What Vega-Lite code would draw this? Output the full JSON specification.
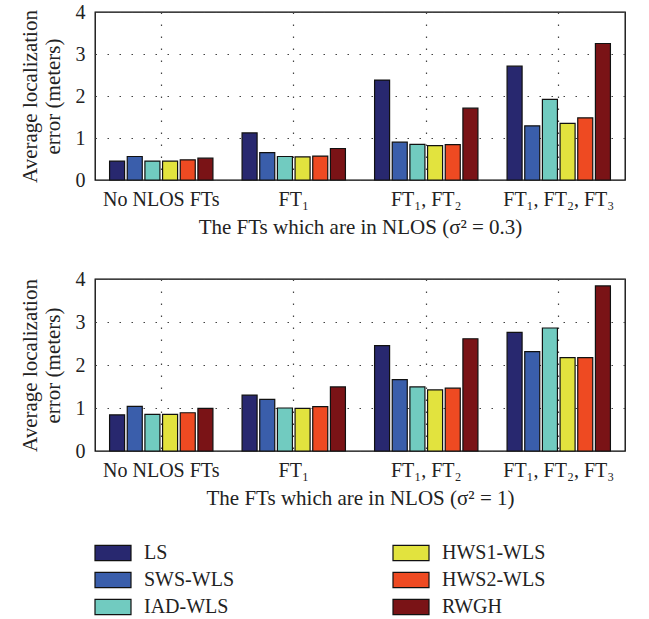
{
  "$schema": "https://vega.github.io/schema/vega-lite/v6.json",
  "padding": {"left": 18, "top": 1, "right": 20, "bottom": 5},
  "background": "white",
  "config": {
    "font": "Liberation Serif",
    "view": {"stroke": "black", "strokeWidth": 1.3},
    "axis": {
      "labelFont": "Liberation Serif",
      "titleFont": "Liberation Serif",
      "labelFontSize": 20,
      "titleFontSize": 21,
      "titleFontWeight": "normal",
      "labelColor": "#222222",
      "titleColor": "#222222",
      "domain": false,
      "ticks": false,
      "gridColor": "#444444",
      "gridDash": [1.5, 10.5],
      "gridOpacity": 1,
      "gridWidth": 1.2
    },
    "legend": {
      "labelFont": "Liberation Serif",
      "labelFontSize": 20,
      "labelColor": "#222222"
    }
  },
  "datasets": {
    "d": [
      {"panel": "a", "group": "No NLOS FTs", "method": "LS", "value": 0.45},
      {"panel": "a", "group": "No NLOS FTs", "method": "SWS-WLS", "value": 0.56},
      {"panel": "a", "group": "No NLOS FTs", "method": "IAD-WLS", "value": 0.45},
      {"panel": "a", "group": "No NLOS FTs", "method": "HWS1-WLS", "value": 0.45},
      {"panel": "a", "group": "No NLOS FTs", "method": "HWS2-WLS", "value": 0.48},
      {"panel": "a", "group": "No NLOS FTs", "method": "RWGH", "value": 0.52},
      {"panel": "a", "group": "FT₁", "method": "LS", "value": 1.12},
      {"panel": "a", "group": "FT₁", "method": "SWS-WLS", "value": 0.65},
      {"panel": "a", "group": "FT₁", "method": "IAD-WLS", "value": 0.56},
      {"panel": "a", "group": "FT₁", "method": "HWS1-WLS", "value": 0.55},
      {"panel": "a", "group": "FT₁", "method": "HWS2-WLS", "value": 0.57},
      {"panel": "a", "group": "FT₁", "method": "RWGH", "value": 0.75},
      {"panel": "a", "group": "FT₁, FT₂", "method": "LS", "value": 2.38},
      {"panel": "a", "group": "FT₁, FT₂", "method": "SWS-WLS", "value": 0.9},
      {"panel": "a", "group": "FT₁, FT₂", "method": "IAD-WLS", "value": 0.85},
      {"panel": "a", "group": "FT₁, FT₂", "method": "HWS1-WLS", "value": 0.82},
      {"panel": "a", "group": "FT₁, FT₂", "method": "HWS2-WLS", "value": 0.84},
      {"panel": "a", "group": "FT₁, FT₂", "method": "RWGH", "value": 1.71},
      {"panel": "a", "group": "FT₁, FT₂, FT₃", "method": "LS", "value": 2.71},
      {"panel": "a", "group": "FT₁, FT₂, FT₃", "method": "SWS-WLS", "value": 1.29},
      {"panel": "a", "group": "FT₁, FT₂, FT₃", "method": "IAD-WLS", "value": 1.92},
      {"panel": "a", "group": "FT₁, FT₂, FT₃", "method": "HWS1-WLS", "value": 1.35},
      {"panel": "a", "group": "FT₁, FT₂, FT₃", "method": "HWS2-WLS", "value": 1.48},
      {"panel": "a", "group": "FT₁, FT₂, FT₃", "method": "RWGH", "value": 3.25},
      {"panel": "b", "group": "No NLOS FTs", "method": "LS", "value": 0.84},
      {"panel": "b", "group": "No NLOS FTs", "method": "SWS-WLS", "value": 1.04},
      {"panel": "b", "group": "No NLOS FTs", "method": "IAD-WLS", "value": 0.85},
      {"panel": "b", "group": "No NLOS FTs", "method": "HWS1-WLS", "value": 0.85},
      {"panel": "b", "group": "No NLOS FTs", "method": "HWS2-WLS", "value": 0.89},
      {"panel": "b", "group": "No NLOS FTs", "method": "RWGH", "value": 0.99},
      {"panel": "b", "group": "FT₁", "method": "LS", "value": 1.3},
      {"panel": "b", "group": "FT₁", "method": "SWS-WLS", "value": 1.2},
      {"panel": "b", "group": "FT₁", "method": "IAD-WLS", "value": 1.0},
      {"panel": "b", "group": "FT₁", "method": "HWS1-WLS", "value": 0.99},
      {"panel": "b", "group": "FT₁", "method": "HWS2-WLS", "value": 1.03},
      {"panel": "b", "group": "FT₁", "method": "RWGH", "value": 1.49},
      {"panel": "b", "group": "FT₁, FT₂", "method": "LS", "value": 2.45},
      {"panel": "b", "group": "FT₁, FT₂", "method": "SWS-WLS", "value": 1.66},
      {"panel": "b", "group": "FT₁, FT₂", "method": "IAD-WLS", "value": 1.49},
      {"panel": "b", "group": "FT₁, FT₂", "method": "HWS1-WLS", "value": 1.42},
      {"panel": "b", "group": "FT₁, FT₂", "method": "HWS2-WLS", "value": 1.46},
      {"panel": "b", "group": "FT₁, FT₂", "method": "RWGH", "value": 2.61},
      {"panel": "b", "group": "FT₁, FT₂, FT₃", "method": "LS", "value": 2.76},
      {"panel": "b", "group": "FT₁, FT₂, FT₃", "method": "SWS-WLS", "value": 2.31},
      {"panel": "b", "group": "FT₁, FT₂, FT₃", "method": "IAD-WLS", "value": 2.86},
      {"panel": "b", "group": "FT₁, FT₂, FT₃", "method": "HWS1-WLS", "value": 2.17},
      {"panel": "b", "group": "FT₁, FT₂, FT₃", "method": "HWS2-WLS", "value": 2.17},
      {"panel": "b", "group": "FT₁, FT₂, FT₃", "method": "RWGH", "value": 3.84}
    ]
  },
  "spacing": 30,
  "vconcat": [
    {
      "data": {"name": "d"},
      "transform": [{"filter": "datum.panel == 'a'"}],
      "width": 530,
      "height": 168,
      "mark": {"type": "bar", "stroke": "#111111", "strokeWidth": 1.2},
      "encoding": {
        "x": {
          "field": "group", "type": "nominal",
          "sort": ["No NLOS FTs", "FT₁", "FT₁, FT₂", "FT₁, FT₂, FT₃"],
          "scale": {"paddingInner": 0.22, "paddingOuter": 0.11},
          "axis": {"title": "The FTs which are in NLOS (σ² = 0.3)", "labelAngle": 0, "grid": true, "bandPosition": 0.5, "labelPadding": 9, "titlePadding": 7}
        },
        "xOffset": {
          "field": "method", "type": "nominal",
          "sort": ["LS", "SWS-WLS", "IAD-WLS", "HWS1-WLS", "HWS2-WLS", "RWGH"],
          "scale": {"paddingInner": 0.15}
        },
        "y": {
          "field": "value", "type": "quantitative",
          "scale": {"domain": [0, 4]},
          "axis": {"values": [0, 1, 2, 3, 4], "title": ["Average localization", "error (meters)"], "titleAlign": "center", "grid": true, "labelPadding": 10, "titlePadding": 12, "titleLineHeight": 23}
        },
        "color": {
          "field": "method", "type": "nominal",
          "scale": {
            "domain": ["LS", "SWS-WLS", "IAD-WLS", "HWS1-WLS", "HWS2-WLS", "RWGH"],
            "range": ["#28286f", "#3a5eab", "#71cbc0", "#e2e33e", "#ee4a22", "#7a1316"]
          },
          "legend": {
            "title": null,
            "orient": "none",
            "legendX": 8,
            "legendY": 531,
            "direction": "vertical",
            "columns": 2,
            "columnPadding": 156,
            "rowPadding": 7,
            "symbolType": "M-2,-0.84H2V0.84H-2Z",
            "symbolSize": 324,
            "symbolStrokeColor": "#111111",
            "symbolStrokeWidth": 1.2,
            "symbolOpacity": 1,
            "labelOffset": 21
          }
        }
      }
    },
    {
      "data": {"name": "d"},
      "transform": [{"filter": "datum.panel == 'b'"}],
      "width": 530,
      "height": 172,
      "mark": {"type": "bar", "stroke": "#111111", "strokeWidth": 1.2},
      "encoding": {
        "x": {
          "field": "group", "type": "nominal",
          "sort": ["No NLOS FTs", "FT₁", "FT₁, FT₂", "FT₁, FT₂, FT₃"],
          "scale": {"paddingInner": 0.22, "paddingOuter": 0.11},
          "axis": {"title": "The FTs which are in NLOS (σ² = 1)", "labelAngle": 0, "grid": true, "bandPosition": 0.5, "labelPadding": 9, "titlePadding": 7}
        },
        "xOffset": {
          "field": "method", "type": "nominal",
          "sort": ["LS", "SWS-WLS", "IAD-WLS", "HWS1-WLS", "HWS2-WLS", "RWGH"],
          "scale": {"paddingInner": 0.15}
        },
        "y": {
          "field": "value", "type": "quantitative",
          "scale": {"domain": [0, 4]},
          "axis": {"values": [0, 1, 2, 3, 4], "title": ["Average localization", "error (meters)"], "titleAlign": "center", "grid": true, "labelPadding": 10, "titlePadding": 12, "titleLineHeight": 23}
        },
        "color": {"field": "method", "type": "nominal"}
      }
    }
  ]
}
